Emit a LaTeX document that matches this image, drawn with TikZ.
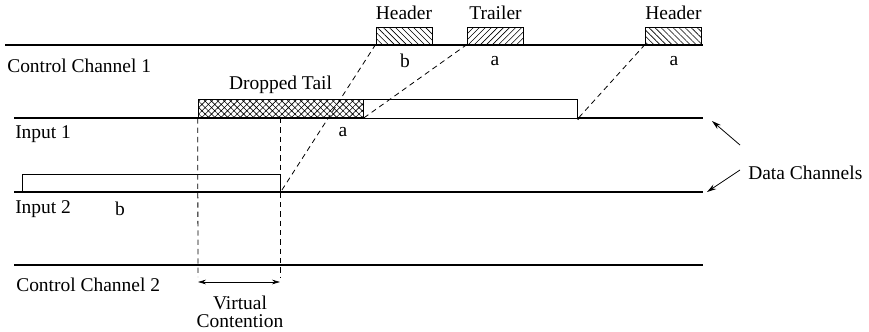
\documentclass[tikz,border=0pt]{standalone}
\usepackage{fontspec}
\setmainfont{Liberation Serif}
\usetikzlibrary{arrows.meta,patterns.meta,positioning}

\tikzset{
  chan/.style={line width=1.4pt},
  pktbox/.style={draw,line width=0.6pt,inner sep=0pt},
  hdrbox/.style={pktbox,minimum width=42pt,minimum height=12.75pt,
    pattern={Lines[angle=-45,distance=3.2pt,line width=0.45pt]}},
  trlbox/.style={pktbox,minimum width=42pt,minimum height=12.75pt,
    pattern={Lines[angle=45,distance=3.2pt,line width=0.45pt]}},
  dashline/.style={dash pattern=on 4pt off 3pt,line width=0.6pt},
  lbl/.style={inner sep=0.75pt}
}

\begin{document}
\begin{tikzpicture}[x=0.75pt,y=0.75pt,yscale=-1,xscale=1,font=\fontsize{14.6}{17}\selectfont]
        \useasboundingbox (0,0) rectangle (869,332);

        %Straight Lines: channels
        \coordinate (cc1w) at (5,45);    \coordinate (cc1e) at (703,45);
        \coordinate (in1w) at (14,118);  \coordinate (in1e) at (703,118);
        \coordinate (in2w) at (14,192);  \coordinate (in2e) at (703,192);
        \coordinate (cc2w) at (14,265);  \coordinate (cc2e) at (703,265);
        \draw[chan] (cc1w) -- (cc1e) ;
        \draw[chan] (in1w) -- (in1e) ;
        \draw[chan] (in2w) -- (in2e) ;
        \draw[chan] (cc2w) -- (cc2e) ;

        %Shape: Rectangle, control packets
        \node[hdrbox] (hdrb) at (404,35.5) {};
        \node[trlbox] (trla) at (495.5,35.5) {};
        \node[hdrbox] (hdra) at (673.5,35.5) {};

        %Shape: Rectangle, bursts
        \node[pktbox,minimum width=123.75pt,minimum height=14.25pt,
          pattern={Hatch[angle=45,distance=3.4pt,line width=0.45pt]}] (tail) at (280.5,108.5) {};
        \node[pktbox,fill=white,minimum width=160.5pt,minimum height=14.25pt,anchor=west] (body) at (tail.east) {};
        \node[pktbox,minimum width=193.5pt,minimum height=13.5pt] (burstb) at (151,183) {};
        \fill (body.south east) circle (1.6) ;

        %Dashed Lines
        \coordinate (vctop) at (280,118);
        \coordinate (vcl) at (198,277);
        \coordinate (vcr) at (280,277);
        \draw[dashline] (hdrb.south west) -- (burstb.south east) ;
        \draw[dashline] (trla.south west) -- (tail.south east) ;
        \draw[dashline] (hdra.south west) -- (body.south east) ;
        \draw[dashline] (tail.south west) -- (vcl) ;
        \draw[dashline] (vctop) -- (vcr) ;

        %Arrow: virtual contention
        \coordinate (vca) at (198,282);
        \coordinate (vcb) at (280,282);
        \draw[{Stealth[length=6pt,width=3.5pt]}-{Stealth[length=6pt,width=3.5pt]},line width=0.6pt] (vca) -- (vcb) ;

        % Text Node
        \node[lbl,above=4pt of hdrb] (hdrbt) {Header};
        \node[lbl,above=4pt of trla] (trlat) {Trailer};
        \node[lbl,above=4pt of hdra] (hdrat) {Header};
        \node[lbl] (pb) at (405,61) {b};
        \node[lbl] (pa1) at (495,61) {a};
        \node[lbl] (pa2) at (674,61) {a};
        \node[lbl,anchor=west] (cc1t) at (6,66) {Control Channel 1};
        \node[lbl,above=3pt of tail] (tailt) {Dropped Tail};
        \node[lbl] (pa3) at (343,132) {a};
        \node[lbl,anchor=west] (in1t) at (14,134) {Input 1};
        \node[lbl,anchor=west] (in2t) at (14,209) {Input 2};
        \node[lbl] (pb2) at (120,209) {b};
        \node[lbl,anchor=west] (cc2t) at (15,285) {Control Channel 2};
        \node[lbl,align=center] (vct) at (240,312) {Virtual\\[-3pt]Contention};
        \node[lbl,anchor=west] (dct) at (747,173) {Data Channels};

        %Arrows: data channels
        \coordinate (in1tip) at (712,121);
        \coordinate (in2tip) at (707,192);
        \draw[-{Stealth[length=7pt,width=4pt]},line width=0.6pt] ([shift={(-7,-28)}]dct.west) -- (in1tip) ;
        \draw[-{Stealth[length=7pt,width=4pt]},line width=0.6pt] ([shift={(-7,-3)}]dct.west) -- (in2tip) ;
    \end{tikzpicture}
\end{document}
